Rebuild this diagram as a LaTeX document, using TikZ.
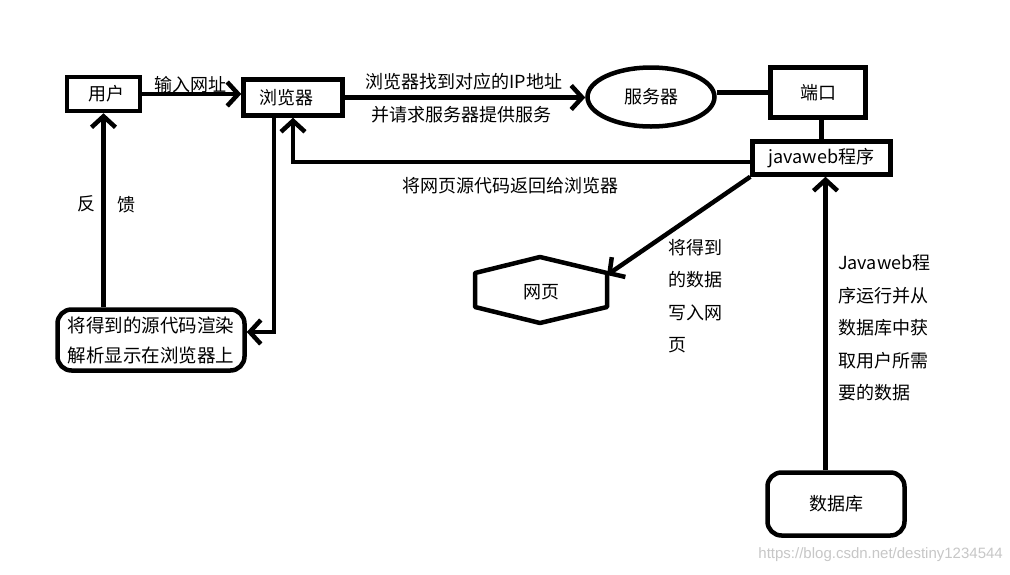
\documentclass[tikz,border=0pt]{standalone}
\usepackage{fontspec}
\setmainfont{Noto Sans CJK SC}
\newfontfamily\wmfont{Liberation Sans}
\usetikzlibrary{arrows.meta,shapes.geometric}
\begin{document}
\begin{tikzpicture}[x=1pt,y=-1pt,
  every node/.style={font=\fontsize{18}{22}\selectfont, inner sep=0pt},
  thick line/.style={line width=4.5pt},
  boxnode/.style={draw, thick line, rectangle},
  rbox/.style={draw, thick line, rectangle, rounded corners=14pt},
  arr/.style={thick line, -{Straight Barb[length=11pt,width=24pt,line width=4.5pt]}},
  lbl/.style={font=\fontsize{18}{22}\selectfont},
  multi/.style={font=\fontsize{18}{32.5}\selectfont, align=left, anchor=west}]
\useasboundingbox (0,0) rectangle (1010,574);
\fill[white] (0,0) rectangle (1010,574);

% nodes
\node[boxnode, minimum width=73pt, minimum height=34pt] (user) at (103.5,94) {\hspace*{6pt}用户};
\node[boxnode, minimum width=99pt, minimum height=36pt] (browser) at (293,97.5) {\hspace*{-14pt}浏览器};
\node[draw, thick line, ellipse, minimum width=127pt, minimum height=59pt] (server) at (651,97) {服务器};
\node[boxnode, minimum width=95pt, minimum height=50pt] (port) at (818,92.5) {端口};
\node[boxnode, minimum width=138pt, minimum height=33pt] (java) at (821.5,158) {javaweb程序};
\node[rbox, minimum width=187pt, minimum height=61pt, align=center,
  font=\fontsize{18.5}{30}\selectfont] (render) at (151,340) {将得到的源代码渲染\\解析显示在浏览器上};
\node[rbox, minimum width=137pt, minimum height=63pt] (db) at (836,504) {数据库};

% hexagon 网页
\draw[thick line, line join=round] (475,273) -- (540,257) -- (607,273) -- (607,307) -- (540,323) -- (475,307) -- cycle;
\node (web) at (541,292) {网页};
\coordinate (webtip) at (607,275);

% connectors
\draw[arr] (user.east) -- (user.east -| browser.west);
\draw[arr] (browser.east) -- (browser.east -| server.west);
\draw[thick line] (port.west -| server.east) -- (port.west);
\draw[thick line] (java.north) -- (java.north |- port.south);
\coordinate (jw) at ([yshift=-4pt]java.west);
\draw[arr] (jw) -- (browser.south |- jw) -- (browser.south);
\coordinate (bd) at ([xshift=-19pt]browser.south);
\coordinate (re) at ([yshift=8pt]render.east);
\draw[arr] (bd) -- (bd |- re) -- (re);
\draw[arr] (render.north -| user.south) -- (user.south);
\draw[arr] (java.south west) -- (webtip);
\coordinate (js) at ([xshift=4pt]java.south);
\draw[arr] (db.north -| js) -- (js);

% labels
\node[lbl] (l1) at (190,85) {输入网址};
\node[lbl] (l2) at (464,82) {浏览器找到对应的IP地址};
\node[lbl] (l3) at (461,115) {并请求服务器提供服务};
\node[lbl] (l4) at (510,186) {将网页源代码返回给浏览器};
\node[lbl] (l5) at (86,204) {反};
\node[lbl] (l6) at (126,205) {馈};
\node[multi] (l7) at (668,296) {将得到\\的数据\\写入网\\页};
\node[multi] (l8) at (838,328) {Javaweb程\\序运行并从\\数据库中获\\取用户所需\\要的数据};
\node[font=\wmfont\fontsize{15}{18}\selectfont, text=black!22, anchor=east] (wm) at (1003,555) {https://blog.csdn.net/destiny1234544};
\end{tikzpicture}
\end{document}
